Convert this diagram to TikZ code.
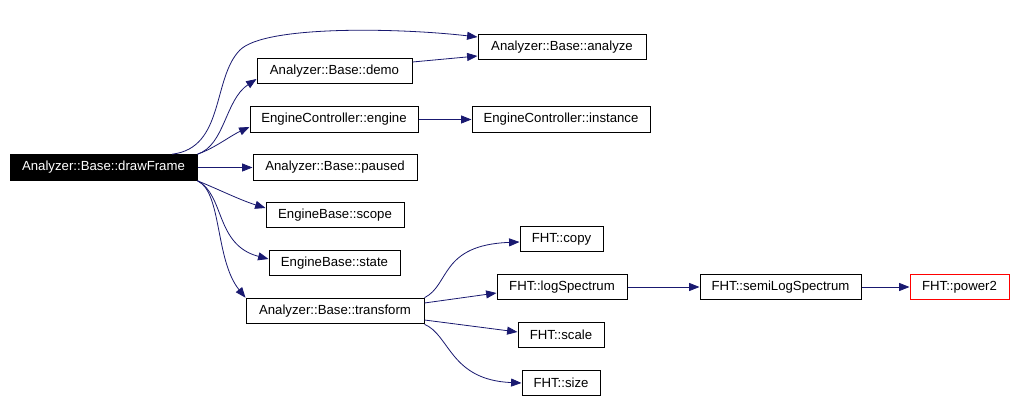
\documentclass[tikz,border=0pt]{standalone}
\usepackage{fontspec}
\setmainfont{Liberation Sans}
\usetikzlibrary{arrows.meta}
\definecolor{edgeblue}{HTML}{191970}
\begin{document}
\begin{tikzpicture}[x=0.75pt,y=-0.75pt,
  fn/.style={draw=black,line width=0.75pt,rectangle,inner sep=0pt,
    minimum height=19.2pt,font=\fontsize{9.9pt}{12pt}\selectfont},
  bw/.style={minimum width=#1*0.75pt},
  rootfn/.style={fn,fill=black,text=white},
  redfn/.style={fn,draw=red},
  call/.style={draw=edgeblue,line width=0.6pt,
    -{Triangle[length=7.8pt,width=6pt]},fill=none}]
\path[use as bounding box] (0,0) rectangle (1015,402);
\fill[white] (0,0) rectangle (1015,402);

\node[rootfn,bw=187] (drawFrame) at (103.5,167.5) {Analyzer::Base::drawFrame};
\node[fn,bw=168] (analyze) at (562,47) {Analyzer::Base::analyze};
\node[fn,bw=155] (demo) at (334.5,71) {Analyzer::Base::demo};
\node[fn,bw=168] (engine) at (334,119.5) {EngineController::engine};
\node[fn,bw=178] (instance) at (561,119.5) {EngineController::instance};
\node[fn,bw=164] (paused) at (335,167.5) {Analyzer::Base::paused};
\node[fn,bw=138] (scope) at (335,215) {EngineBase::scope};
\node[fn,bw=131] (state) at (334.5,263) {EngineBase::state};
\node[fn,bw=178] (transform) at (335,311) {Analyzer::Base::transform};
\node[fn,bw=83] (copy) at (561.5,239) {FHT::copy};
\node[fn,bw=130] (logSpectrum) at (562,287) {FHT::logSpectrum};
\node[fn,bw=86] (scale) at (561,335) {FHT::scale};
\node[fn,bw=78] (size) at (561,383) {FHT::size};
\node[fn,bw=161] (semiLog) at (780.5,287) {FHT::semiLogSpectrum};
\node[redfn,bw=99] (power2) at (959.5,287) {FHT::power2};

% edges from drawFrame
\draw[call] ([xshift=51.4pt]drawFrame.north) .. controls (225,148) and (212,78) .. (240,50)
  .. controls (265,25) and (400,28) .. ([yshift=7.5pt]analyze.west);
\draw[call] (drawFrame.north east) .. controls (225,145) and (225,100) .. ([yshift=-6pt]demo.west);
\draw[call] (drawFrame.north east) .. controls (215,148) and (230,136) .. ([yshift=-5.6pt]engine.west);
\draw[call] (drawFrame.east) -- (paused.west);
\draw[call] (drawFrame.south east) .. controls (220,190) and (240,200) .. ([yshift=5.25pt]scope.west);
\draw[call] (drawFrame.south east) .. controls (225,195) and (215,245) .. ([yshift=3pt]state.west);
\draw[call] (drawFrame.south east) .. controls (222,192) and (215,260) .. (transform.north west);

% second level
\draw[call] ([yshift=6.75pt]demo.east) -- ([yshift=-6.75pt]analyze.west);
\draw[call] (engine.east) -- (instance.west);
\draw[call] (transform.north east) .. controls (450,285) and (440,245) .. ([yshift=-2.25pt]copy.west);
\draw[call] ([yshift=6pt]transform.east) -- ([yshift=-4.5pt]logSpectrum.west);
\draw[call] ([yshift=-6.75pt]transform.east) -- ([yshift=2.25pt]scale.west);
\draw[call] (transform.south east) .. controls (450,335) and (450,380) .. (size.west);

% third level
\draw[call] (logSpectrum.east) -- (semiLog.west);
\draw[call] (semiLog.east) -- (power2.west);
\end{tikzpicture}
\end{document}
